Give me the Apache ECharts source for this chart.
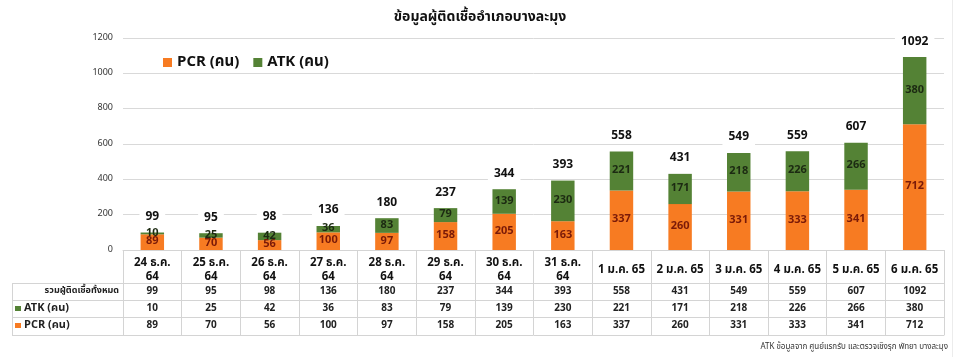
<!DOCTYPE html>
<html>
<head>
<meta charset="utf-8">
<script src="https://cdn.jsdelivr.net/npm/echarts@6/dist/echarts.min.js"></script>
<style>
html,body{margin:0;padding:0;background:#fff;}
#c{width:960px;height:357px;}
</style>
</head>
<body>
<div id="c"></div>
<script>
const categories = ['24 ธ.ค.\n64','25 ธ.ค.\n64','26 ธ.ค.\n64','27 ธ.ค.\n64','28 ธ.ค.\n64','29 ธ.ค.\n64','30 ธ.ค.\n64','31 ธ.ค.\n64','1 ม.ค. 65','2 ม.ค. 65','3 ม.ค. 65','4 ม.ค. 65','5 ม.ค. 65','6 ม.ค. 65'];
const pcr = [89,70,56,100,97,158,205,163,337,260,331,333,341,712];
const atk = [10,25,42,36,83,79,139,230,221,171,218,226,266,380];
const total = [99,95,98,136,180,237,344,393,558,431,549,559,607,1092];
const yTicks = {min:0, max:1200, interval:200};

const FONT = "Tahoma, 'Noto Sans Thai', 'Leelawadee UI', 'Noto Sans', 'DejaVu Sans', sans-serif";
const ORANGE = '#F77B22';
const GREEN = '#548235';
const LINE = '#d4d4d4';

const chart = echarts.init(document.getElementById('c'), null, {renderer:'canvas'});

function rowAxis(offset, data, show){
  return {
    type:'category', data:data, position:'bottom', offset:offset, gridIndex:0,
    axisLine:{show:true, lineStyle:{color:LINE, width:1}},
    axisTick:{show:false},
    axisLabel:{show:show, interval:0, margin:4, fontSize:10, fontWeight:'bold', color:'#222', fontFamily:FONT},
    splitLine:{show:false}
  };
}

const option = {
  animation:false,
  backgroundColor:'#fff',
  textStyle:{fontFamily:FONT},
  title:{
    text:'ข้อมูลผู้ติดเชื้ออำเภอบางละมุง', left:'center', top:6,
    textStyle:{fontSize:14, fontWeight:'bold', color:'#111', fontFamily:FONT}
  },
  legend:{
    data:['PCR (คน)','ATK (คน)'], left:158, top:50, itemWidth:9, itemHeight:9, itemGap:14,
    icon:'rect',
    textStyle:{fontSize:15, fontWeight:'bold', color:'#111', fontFamily:FONT}
  },
  grid:{left:123, right:16, top:38, bottom:107, containLabel:false},
  yAxis:{
    type:'value', min:yTicks.min, max:yTicks.max, interval:yTicks.interval,
    axisLine:{show:false}, axisTick:{show:false},
    axisLabel:{fontSize:9, color:'#333', margin:10, fontFamily:FONT, formatter:function(v){return String(v);}},
    splitLine:{lineStyle:{color:'#d9d9d9'}}
  },
  xAxis:[
    {
      type:'category', data:categories, position:'bottom', gridIndex:0,
      axisLine:{show:true, lineStyle:{color:LINE}},
      axisTick:{show:true, interval:0, length:85, lineStyle:{color:LINE}},
      axisLabel:{interval:0, margin:21, fontSize:11.5, fontWeight:'bold', color:'#111', lineHeight:14, fontFamily:FONT,
        verticalAlign:'middle'},
      splitLine:{show:false}
    },
    rowAxis(33, total, true),
    rowAxis(50, atk, true),
    rowAxis(67, pcr, true),
    rowAxis(85, categories, false)
  ],
  series:[
    {
      name:'PCR (คน)', type:'bar', stack:'a', data:pcr, barWidth:'40%', xAxisIndex:0,
      itemStyle:{color:ORANGE},
      label:{show:true, position:'inside', fontSize:11, fontWeight:'bold', color:'#7a1a08', fontFamily:FONT}
    },
    {
      name:'ATK (คน)', type:'bar', stack:'a', data:atk, barWidth:'40%', xAxisIndex:0,
      itemStyle:{color:GREEN},
      label:{show:true, position:'inside', fontSize:11, fontWeight:'bold', color:'#1c2a12', fontFamily:FONT}
    },
    {
      name:'รวม', type:'bar', data:total, barWidth:'40%', barGap:'-100%', xAxisIndex:0,
      itemStyle:{color:'rgba(0,0,0,0)'}, silent:true,
      label:{show:true, position:'top', distance:8, fontSize:12, fontWeight:'bold', color:'#111', fontFamily:FONT,
        backgroundColor:'#fff', padding:[1,6]}
    }
  ],
  graphic:[
    {type:'line', shape:{x1:12,y1:283.5,x2:123,y2:283.5}, style:{stroke:LINE}},
    {type:'line', shape:{x1:12,y1:300.5,x2:123,y2:300.5}, style:{stroke:LINE}},
    {type:'line', shape:{x1:12,y1:317.5,x2:123,y2:317.5}, style:{stroke:LINE}},
    {type:'line', shape:{x1:12,y1:335.5,x2:123,y2:335.5}, style:{stroke:LINE}},
    {type:'line', shape:{x1:12.5,y1:283,x2:12.5,y2:335}, style:{stroke:LINE}},
    {type:'text', right:841, top:287, style:{text:'รวมผู้ติดเชื้อทั้งหมด', font:'bold 9px '+FONT, fill:'#222'}},
    {type:'rect', shape:{x:15,y:306,width:6,height:5}, style:{fill:GREEN}},
    {type:'text', left:24, top:303, style:{text:'ATK (คน)', font:'bold 11px '+FONT, fill:'#222'}},
    {type:'rect', shape:{x:15,y:323,width:6,height:5}, style:{fill:ORANGE}},
    {type:'text', left:24, top:320, style:{text:'PCR (คน)', font:'bold 11px '+FONT, fill:'#222'}},
    {type:'text', right:12, top:343, style:{text:'ATK ข้อมูลจาก ศูนย์แรกรับ และตรวจเชิงรุก พัทยา บางละมุง', font:'8px '+FONT, fill:'#333'}},
    {type:'line', shape:{x1:952.5,y1:0,x2:952.5,y2:357}, style:{stroke:'#ececec'}}
  ]
};
chart.setOption(option);
</script>
</body>
</html>
